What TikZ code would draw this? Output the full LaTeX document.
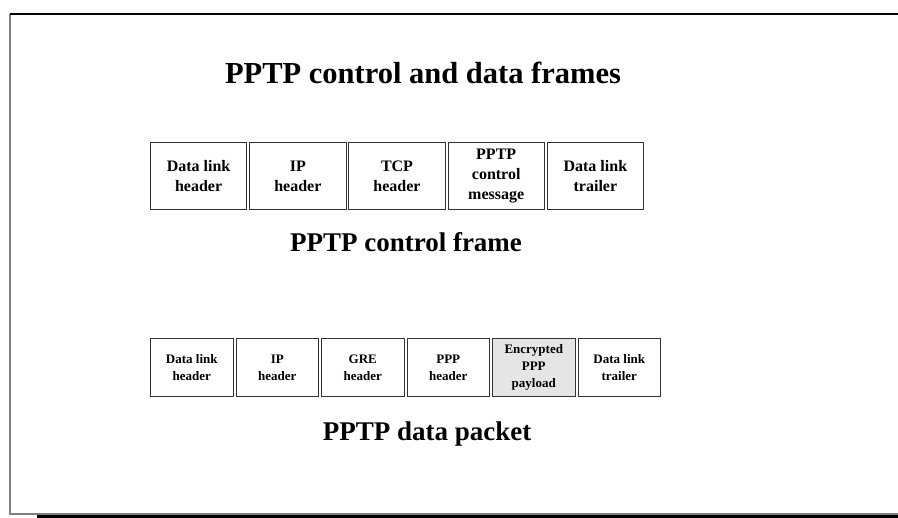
\documentclass[tikz,border=0pt]{standalone}
\usepackage{fontspec}
\setmainfont{Liberation Serif}
\usetikzlibrary{positioning}

\begin{document}
\begin{tikzpicture}[x=1pt,y=-1pt,node distance=2pt,
    ctl field/.style={draw=black!80,line width=0.8pt,minimum width=96.4pt,minimum height=67.2pt,inner sep=1pt,align=center,font=\fontsize{16}{20}\selectfont\bfseries},
    data field/.style={draw=black!80,line width=0.8pt,minimum width=82.7pt,minimum height=58.2pt,inner sep=1pt,align=center,font=\fontsize{13}{17}\selectfont\bfseries},
    caption/.style={anchor=base,font=\fontsize{27}{30}\selectfont\bfseries}]

\useasboundingbox (0,0) rectangle (898,518);

% slide frame
\draw[black!50, line width=1.5pt] (10,14) -- (10,514) -- (898,514);
\draw[black, line width=1.5pt] (10,14) -- (898,14);
\fill[black] (37,515) rectangle (898,518);

\node[caption, font=\fontsize{30.5}{34}\selectfont\bfseries] (TITLE) at (423,84) {PPTP control and data frames};

% control frame
\node[ctl field]                  (CDL)  at (198.6,176) {Data link\\header};
\node[ctl field]                  (CIP)  [right=of CDL]  {IP\\header};
\node[ctl field]                  (CTCP) [right=of CIP]  {TCP\\header};
\node[ctl field]                  (CMSG) [right=of CTCP] {PPTP\\control\\message};
\node[ctl field]                  (CTRL) [right=of CMSG] {Data link\\trailer};

\node[caption] (CCAP) at (406,252) {PPTP control frame};

% data packet
\node[data field]                 (DDL)  at (191.75,367.5) {Data link\\header};
\node[data field]                 (DIP)  [right=of DDL]  {IP\\header};
\node[data field]                 (DGRE) [right=of DIP]  {GRE\\header};
\node[data field]                 (DPPP) [right=of DGRE] {PPP\\header};
\node[data field, fill=black!10]  (DENC) [right=of DPPP] {Encrypted\\PPP\\payload};
\node[data field]                 (DTRL) [right=of DENC] {Data link\\trailer};

\node[caption] (DCAP) at (427,441) {PPTP data packet};

\end{tikzpicture}
\end{document}
